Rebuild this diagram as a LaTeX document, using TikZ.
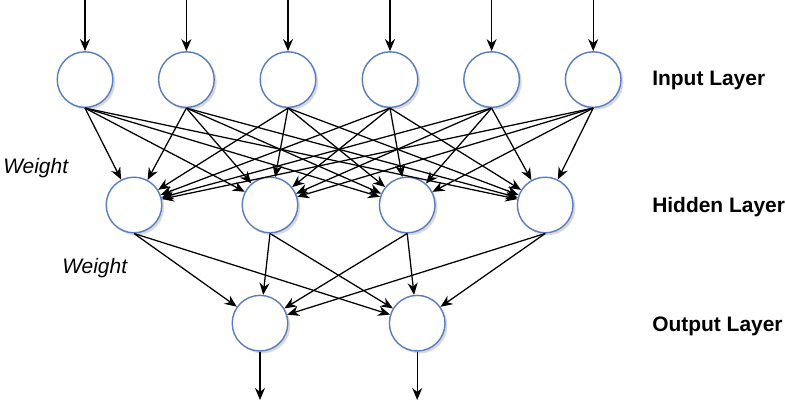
\documentclass[tikz,border=0pt]{standalone}
\usepackage{fontspec}
\setmainfont{Liberation Sans}
\usepackage{tikz}
\usetikzlibrary{arrows.meta,shadows}
\definecolor{nodeblue}{RGB}{88,124,196}

\begin{document}
\begin{tikzpicture}[
    font=\fontsize{14.9}{18}\selectfont,
    neuron/.style={circle, draw=nodeblue, fill=white, line width=1pt, minimum size=1.39cm, inner sep=0pt,
        drop shadow={shadow xshift=0.6mm, shadow yshift=-0.6mm, opacity=0.3}},
    layer/.style={anchor=west, inner sep=0pt, font=\fontsize{14.9}{18}\selectfont\bfseries},
    wlabel/.style={anchor=west, inner sep=0pt, font=\fontsize{14.9}{18}\selectfont\itshape},
    arrow/.style={-{Stealth[length=3mm, width=2.5mm]}, line width=0.9pt}
]
\useasboundingbox (0,0) rectangle (19.625,10);

% input layer
\node[neuron] (i1) at (2.125,8.01) {};
\node[neuron] (i2) at (4.66,8.01) {};
\node[neuron] (i3) at (7.2,8.01) {};
\node[neuron] (i4) at (9.75,8.01) {};
\node[neuron] (i5) at (12.29,8.01) {};
\node[neuron] (i6) at (14.83,8.01) {};

% hidden layer
\node[neuron] (h1) at (3.35,4.875) {};
\node[neuron] (h2) at (6.75,4.875) {};
\node[neuron] (h3) at (10.18,4.875) {};
\node[neuron] (h4) at (13.63,4.875) {};

% output layer
\node[neuron] (o1) at (6.5,1.92) {};
\node[neuron] (o2) at (10.43,1.92) {};

% free ends
\coordinate (t1) at (2.125,10);
\coordinate (t2) at (4.66,10);
\coordinate (t3) at (7.2,10);
\coordinate (t4) at (9.75,10);
\coordinate (t5) at (12.29,10);
\coordinate (t6) at (14.83,10);
\coordinate (b1) at (6.5,0);
\coordinate (b2) at (10.43,0);

\node[layer] (lin) at (16.3,8.0) {Input Layer};
\node[layer] (lhid) at (16.3,4.82) {Hidden Layer};
\node[layer] (lout) at (16.3,1.85) {Output Layer};
\node[wlabel] (w1) at (0.075,5.81) {Weight};
\node[wlabel] (w2) at (1.55,3.31) {Weight};

\draw[arrow] (t1) -- (i1);
\draw[arrow] (t2) -- (i2);
\draw[arrow] (t3) -- (i3);
\draw[arrow] (t4) -- (i4);
\draw[arrow] (t5) -- (i5);
\draw[arrow] (t6) -- (i6);

\draw[arrow] (i1.south) -- (h1); \draw[arrow] (i1.south) -- (h2); \draw[arrow] (i1.south) -- (h3); \draw[arrow] (i1.south) -- (h4);
\draw[arrow] (i2.south) -- (h1); \draw[arrow] (i2.south) -- (h2); \draw[arrow] (i2.south) -- (h3); \draw[arrow] (i2.south) -- (h4);
\draw[arrow] (i3.south) -- (h1); \draw[arrow] (i3.south) -- (h2); \draw[arrow] (i3.south) -- (h3); \draw[arrow] (i3.south) -- (h4);
\draw[arrow] (i4.south) -- (h1); \draw[arrow] (i4.south) -- (h2); \draw[arrow] (i4.south) -- (h3); \draw[arrow] (i4.south) -- (h4);
\draw[arrow] (i5.south) -- (h1); \draw[arrow] (i5.south) -- (h2); \draw[arrow] (i5.south) -- (h3); \draw[arrow] (i5.south) -- (h4);
\draw[arrow] (i6.south) -- (h1); \draw[arrow] (i6.south) -- (h2); \draw[arrow] (i6.south) -- (h3); \draw[arrow] (i6.south) -- (h4);

\draw[arrow] (h1.south) -- (o1); \draw[arrow] (h1.south) -- (o2);
\draw[arrow] (h2.south) -- (o1); \draw[arrow] (h2.south) -- (o2);
\draw[arrow] (h3.south) -- (o1); \draw[arrow] (h3.south) -- (o2);
\draw[arrow] (h4.south) -- (o1); \draw[arrow] (h4.south) -- (o2);

\draw[arrow] (o1) -- (b1);
\draw[arrow] (o2) -- (b2);
\end{tikzpicture}
\end{document}
